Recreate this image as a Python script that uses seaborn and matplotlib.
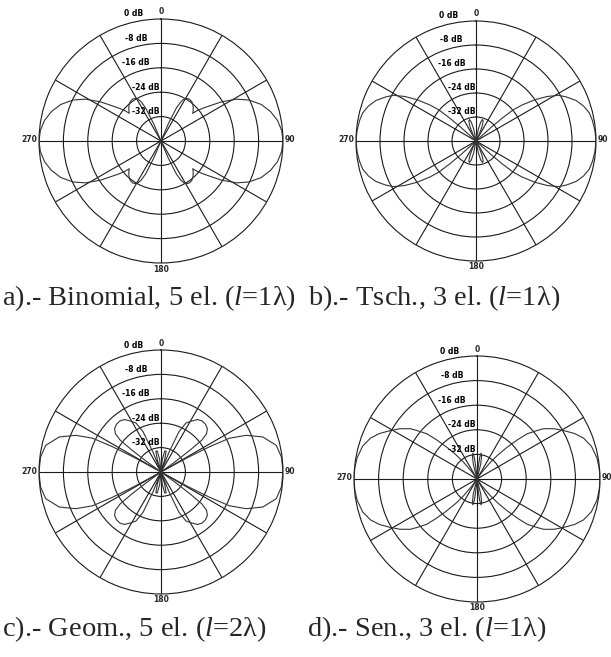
import numpy as np
import pandas as pd
import matplotlib
matplotlib.use("Agg")
import matplotlib.pyplot as plt
import seaborn as sns

W, H = 611, 657

# pattern values for one quadrant (angle from 0 deg, clockwise), level in dB
A_ANG = [0, 10, 20, 23, 25, 27, 29, 31, 34, 38, 41, 44, 47, 48.8, 50, 52, 54, 57, 61, 65, 70, 75, 80, 85, 90]
A_DB = [-40, -40, -40, -34, -28, -25.5, -24.2, -23.7, -23.4, -23.6, -24.1, -24.8, -25.6, -26.2,
        -24.5, -22.5, -20.5, -16.5, -11.7, -8.2, -5.0, -2.8, -1.2, -0.3, 0]

B_ANG = [0, 8, 11, 14, 17, 20, 23, 26, 28, 47.5, 48, 49, 50, 52, 55, 58, 61, 64, 68, 72, 76, 80, 85, 90]
B_DB = [-40, -40, -36, -33.5, -32.5, -33, -35, -38, -40, -40, -33, -28, -24, -20.5, -16, -12,
        -8.6, -6.5, -4.0, -2.3, -1.1, -0.6, -0.2, 0]

C_ANG = [0, 6, 10, 14, 17, 19, 20.5, 22, 24, 27, 31, 35, 39, 43, 47, 50, 52, 53, 54, 55,
         60.5, 61.5, 62.5, 63.7, 66.7, 71, 77, 83, 90]
C_DB = [-40, -36, -33, -33, -36, -40, -40, -33, -25.5, -22, -20.5, -19, -18.5, -18.6, -19.2,
        -20.5, -23, -28, -34, -40, -40, -30, -22, -15, -9.6, -4.7, -1.2, -0.2, 0]

D_ANG = [0, 4, 7, 9, 11, 14, 17, 34, 36, 38.7, 41, 43.5, 46, 48, 51, 53, 57, 61, 65, 69, 74, 80, 85, 90]
D_DB = [-40, -38, -33, -31.5, -32, -35, -40, -40, -37, -33, -29.5, -25.8, -21.5, -18, -15,
        -12.8, -10, -7.6, -5, -2.9, -1.3, -0.4, -0.1, 0]

CAPTIONS = [r"a).- Binomial, 5 el. ($\mathit{l}$=1λ)",
            r"b).- Tsch., 3 el. ($\mathit{l}$=1λ)",
            r"c).- Geom., 5 el. ($\mathit{l}$=2λ)",
            r"d).- Sen., 3 el. ($\mathit{l}$=1λ)"]
RING_LABELS = ["0 dB", "-8 dB", "-16 dB", "-24 dB", "-32 dB"]
RING_DB = [0, -8, -16, -24, -32]

# panel centre / radius in pixels, caption position
PANELS = [
    dict(ang=A_ANG, db=A_DB, cx=161, cy=141, R=122, tx=2, ty=298),
    dict(ang=B_ANG, db=B_DB, cx=476, cy=141, R=120, tx=308, ty=298),
    dict(ang=C_ANG, db=C_DB, cx=161, cy=472, R=122, tx=2, ty=629),
    dict(ang=D_ANG, db=D_DB, cx=477, cy=479, R=123, tx=307, ty=629),
]

sns.set_style("white")
plt.rcParams["font.family"] = ["DejaVu Sans"]
plt.rcParams["mathtext.fontset"] = "custom"
plt.rcParams["mathtext.rm"] = "Liberation Serif"
plt.rcParams["mathtext.it"] = "Liberation Serif:italic"

LINE = "#1a1a1a"


def full_pattern(ang, db):
    # mirror the quadrant into the full circle (pattern is symmetric)
    ang = np.asarray(ang, dtype=float)
    db = np.asarray(db, dtype=float)
    th = np.concatenate([ang, 180 - ang[::-1], 180 + ang, 360 - ang[::-1]])
    lv = np.concatenate([db, db[::-1], db, db[::-1]])
    return pd.DataFrame({"theta": np.deg2rad(th), "r": np.clip(lv + 40, 0, None)})


fig = plt.figure(figsize=(W / 100, H / 100), dpi=100)

for p, cap in zip(PANELS, CAPTIONS):
    cx, cy, R = p["cx"], p["cy"], p["R"]
    ax = fig.add_axes([(cx - R) / W, (H - cy - R) / H, 2 * R / W, 2 * R / H], projection="polar")
    ax.set_theta_zero_location("N")
    ax.set_theta_direction(-1)
    ax.set_rlim(0, 40)
    ax.set_rticks([8, 16, 24, 32])
    ax.set_thetagrids(np.arange(0, 360, 30), labels=[""] * 12)
    ax.set_yticklabels([])
    ax.grid(True, color=LINE, lw=0.8)
    ax.spines["polar"].set_color(LINE)
    ax.spines["polar"].set_linewidth(0.8)
    ax.set_facecolor("white")

    df = full_pattern(p["ang"], p["db"])
    sns.lineplot(data=df, x="theta", y="r", ax=ax, sort=False, estimator=None,
                 color="#333333", lw=0.8)
    ax.set_xlabel("")
    ax.set_ylabel("")

    # ring labels
    offs = [-18, -14, -11, -1, -1]
    for lab, d, ox in zip(RING_LABELS, RING_DB, offs):
        ax.annotate(lab, xy=(0, d + 40), xytext=(ox, 5), textcoords="offset pixels",
                    ha="right", va="center", fontsize=5.5, fontweight="bold", color="black",
                    annotation_clip=False)
    # angle labels
    ax.annotate("0", xy=(0, 40), xytext=(0, 7), textcoords="offset pixels",
                ha="center", va="center", fontsize=5.5, fontweight="bold", annotation_clip=False)
    ax.annotate("180", xy=(np.pi, 40), xytext=(0, -6), textcoords="offset pixels",
                ha="center", va="center", fontsize=5.5, fontweight="bold", annotation_clip=False)
    ax.annotate("90", xy=(np.pi / 2, 40), xytext=(2, 1), textcoords="offset pixels",
                ha="left", va="center", fontsize=5.5, fontweight="bold", annotation_clip=False)
    ax.annotate("270", xy=(3 * np.pi / 2, 40), xytext=(-2, 1), textcoords="offset pixels",
                ha="right", va="center", fontsize=5.5, fontweight="bold", annotation_clip=False)

    fig.text(p["tx"] / W, 1 - p["ty"] / H, cap, ha="left", va="center",
             fontsize=20.5, family="Liberation Serif", math_fontfamily="custom")

fig.savefig("out.png", dpi=100, facecolor="white")
